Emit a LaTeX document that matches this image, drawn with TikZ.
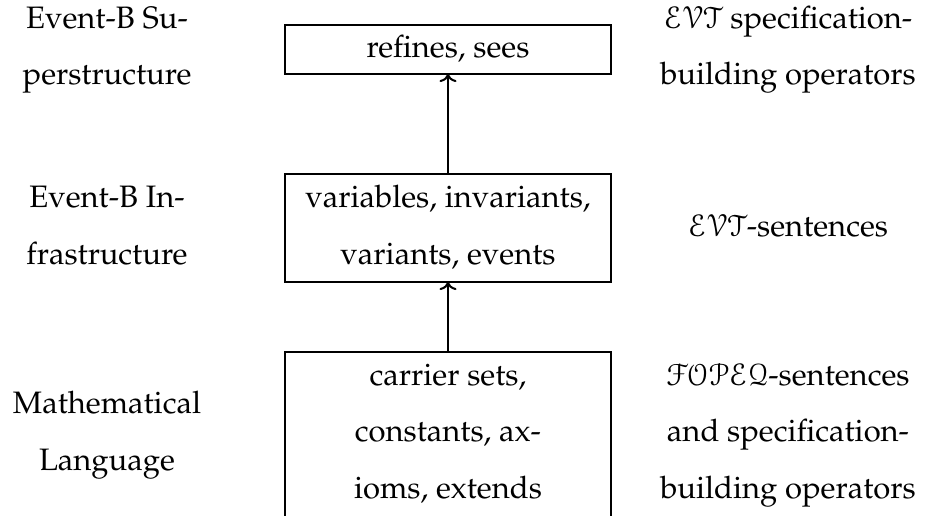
\documentclass[tikz,border=0pt]{standalone}
\usepackage[T1]{fontenc}
\usepackage{mathpazo}
\usepackage[mathcal]{eucal}
\usetikzlibrary{arrows.meta}
\tikzset{
  layerbox/.style={draw, line width=0.4pt, minimum width=105.2pt, inner sep=0pt, outer sep=0pt},
  txt/.style={anchor=base, inner sep=0pt, outer sep=0pt, font=\fontsize{10}{18}\selectfont},
  lift/.style={line width=0.65pt, -{To[length=2.6pt,width=5.5pt]}},
}
\begin{document}
\begin{tikzpicture}[x=0.3226pt, y=-0.3226pt]
\useasboundingbox (0,0) rectangle (925,515);

% the three layers of the language
\node[layerbox, minimum height=15.81pt] (sup)  at (448,49.5) {};
\node[layerbox, minimum height=34.84pt] (inf)  at (448,228)  {};
\node[layerbox, minimum height=53.55pt] (math) at (448,435)  {};

% contents of each layer
\node[txt] (supA)  at (448,57)    {refines, sees};
\node[txt] (infA)  at (448,207.5) {variables, invariants,};
\node[txt] (infB)  at (448,264)   {variants, events};
\node[txt] (mathA) at (448,385)   {carrier sets,};
\node[txt] (mathB) at (448,441.5) {constants, ax-};
\node[txt] (mathC) at (448,498)   {ioms, extends};

% layer names
\node[txt] (supL1)  at (107,28)    {Event-B Su-};
\node[txt] (supL2)  at (107,84)    {perstructure};
\node[txt] (infL1)  at (107,207.5) {Event-B In-};
\node[txt] (infL2)  at (107,264)   {frastructure};
\node[txt] (mathL1) at (107,413)   {Mathematical};
\node[txt] (mathL2) at (107,470)   {Language};

% institution-level counterparts
\node[txt] (supR1)  at (788,28)    {$\mathcal{EVT}$ specification-};
\node[txt] (supR2)  at (788,84)    {building operators};
\node[txt] (infR1)  at (788,236)   {$\mathcal{EVT}$-sentences};
\node[txt] (mathR1) at (788,385)   {$\mathcal{FOPEQ}$-sentences};
\node[txt] (mathR2) at (788,441.5) {and specification-};
\node[txt] (mathR3) at (788,498)   {building operators};

% each layer builds on the one below
\draw[lift] (inf.north)  -- (sup.south);
\draw[lift] (math.north) -- (inf.south);
\end{tikzpicture}
\end{document}
